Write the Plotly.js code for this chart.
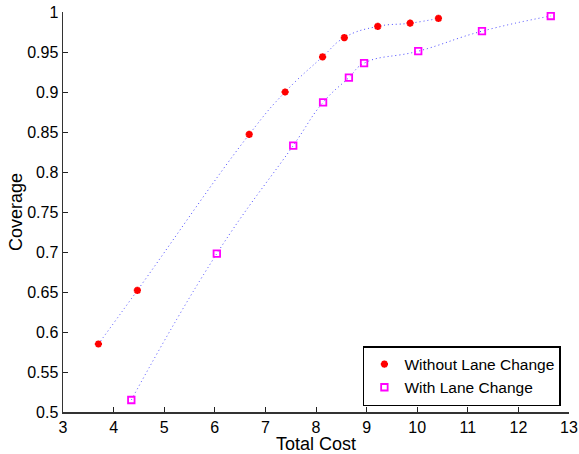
<!DOCTYPE html>
<html>
<head>
<meta charset="utf-8">
<script src="https://cdn.plot.ly/plotly-3.0.1.min.js"></script>
<style>html,body{margin:0;padding:0;background:#fff;}#chart{width:579px;height:454px;}</style>
</head>
<body>
<div id="chart"></div>
<script>
const withoutCost = [3.70, 4.47, 6.68, 7.39, 8.13, 8.56, 9.22, 9.86, 10.42];
const withoutCoverage = [0.585, 0.652, 0.847, 0.900, 0.944, 0.968, 0.982, 0.986, 0.992];
const withCost = [4.35, 6.04, 7.55, 8.14, 8.65, 8.95, 10.02, 11.28, 12.64];
const withCoverage = [0.515, 0.698, 0.833, 0.887, 0.918, 0.936, 0.951, 0.976, 0.995];
const seriesNames = ['Without Lane Change', 'With Lane Change'];
const xTicks = [3,4,5,6,7,8,9,10,11,12,13];
const yTicks = [0.5,0.55,0.6,0.65,0.7,0.75,0.8,0.85,0.9,0.95,1];
const yTickText = ['0.5','0.55','0.6','0.65','0.7','0.75','0.8','0.85','0.9','0.95','1'];

const fitLine = {color: 'rgb(70,70,255)', width: 1, dash: '1px,3px', shape: 'spline', smoothing: 1.3};

const traces = [
  {x: withoutCost, y: withoutCoverage, mode: 'lines', line: fitLine, showlegend: false, hoverinfo: 'skip'},
  {x: withCost, y: withCoverage, mode: 'lines', line: fitLine, showlegend: false, hoverinfo: 'skip'},
  {x: withoutCost, y: withoutCoverage, mode: 'markers', name: seriesNames[0],
   marker: {symbol: 'asterisk-open', size: 6, color: '#ff0000', line: {color: '#ff0000', width: 2.2}}},
  {x: withCost, y: withCoverage, mode: 'markers', name: seriesNames[1],
   marker: {symbol: 'square-open', size: 6.5, color: '#ff00ff', line: {color: '#ff00ff', width: 1.8}}}
];

const font = {family: 'Liberation Sans, Arial, sans-serif', size: 16, color: '#000'};

const layout = {
  width: 579, height: 454,
  margin: {l: 63, r: 10, t: 12, b: 42},
  paper_bgcolor: '#fff', plot_bgcolor: '#fff',
  font: font,
  showlegend: true,
  xaxis: {
    range: [3, 13], tickvals: xTicks, ticktext: xTicks.map(String),
    ticks: 'inside', ticklen: 5, tickcolor: '#222', tickwidth: 1,
    showline: true, linecolor: '#333', linewidth: 1.5, mirror: false,
    showgrid: false, zeroline: false,
    tickfont: {family: font.family, size: 16, color: '#000'},
    title: {text: 'Total Cost', font: {family: font.family, size: 18, color: '#000'}, standoff: 3}
  },
  yaxis: {
    range: [0.5, 1], tickvals: yTicks, ticktext: yTickText,
    ticks: 'inside', ticklen: 5, tickcolor: '#222', tickwidth: 1,
    showline: true, linecolor: '#333', linewidth: 1.5, mirror: false,
    showgrid: false, zeroline: false,
    tickfont: {family: font.family, size: 16, color: '#000'},
    title: {text: 'Coverage', font: {family: font.family, size: 18, color: '#000'}, standoff: 0}
  },
  legend: {
    x: 0.984, y: 0.015, xanchor: 'right', yanchor: 'bottom',
    bgcolor: '#fff', bordercolor: '#000', borderwidth: 1.5,
    font: {family: font.family, size: 15.5, color: '#000'},
    tracegroupgap: 0, itemwidth: 30
  }
};

Plotly.newPlot('chart', traces, layout, {displayModeBar: false, staticPlot: true});
</script>
</body>
</html>
